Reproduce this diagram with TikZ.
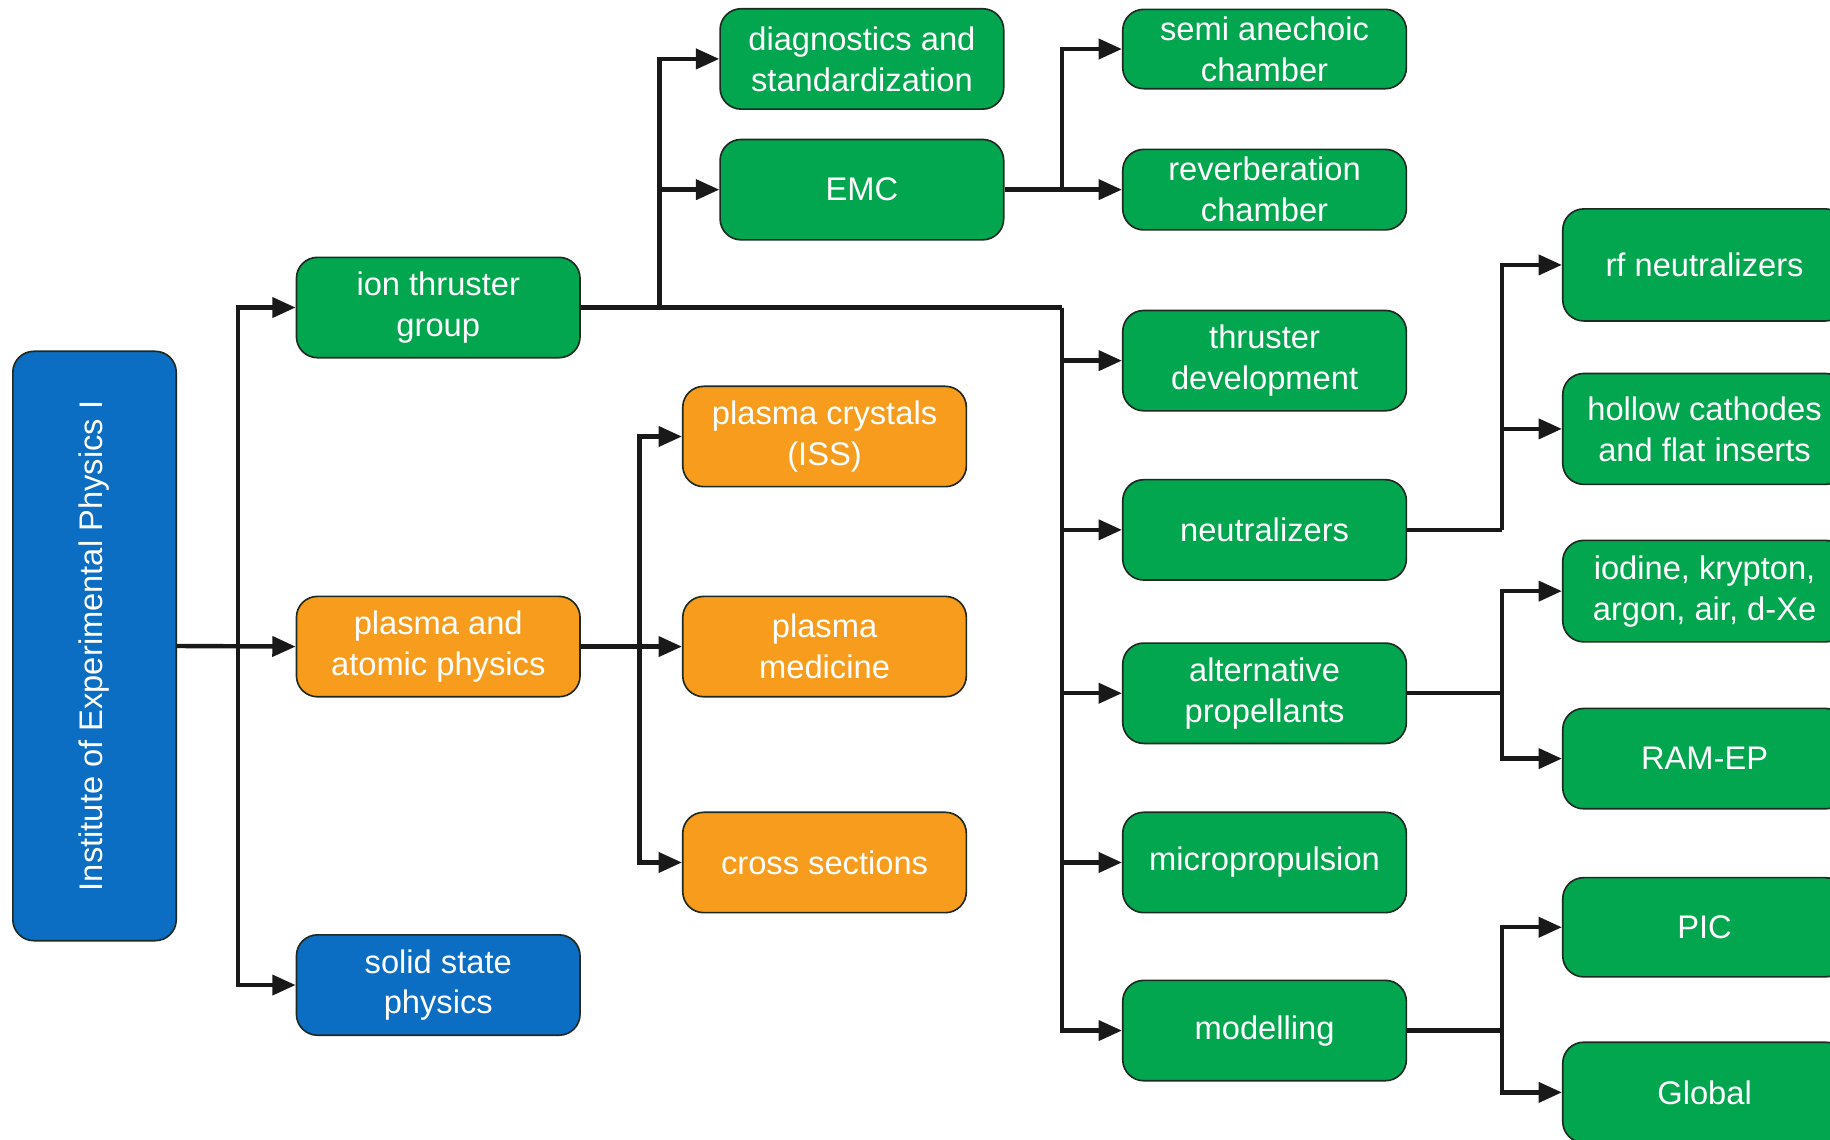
\documentclass[tikz,border=0pt]{standalone}
\usepackage{fontspec}
\setmainfont{Liberation Sans}
\usetikzlibrary{arrows.meta}
\definecolor{bxgreen}{HTML}{02A64F}
\definecolor{bxorange}{HTML}{F89C1D}
\definecolor{bxblue}{HTML}{0B6EC2}
\definecolor{bxedge}{HTML}{1C2A22}
\tikzset{
  box/.style={draw=bxedge, line width=1.4pt, rounded corners=18pt, text=white,
    align=center, inner sep=0pt, minimum width=243pt, minimum height=86pt,
    font=\fontsize{28}{35}\selectfont},
  gbox/.style={box, fill=bxgreen},
  obox/.style={box, fill=bxorange},
  bbox/.style={box, fill=bxblue},
  conn/.style={line width=3.8pt, draw=black!90},
  arr/.style={conn, -{Triangle[length=20pt,width=17pt]}},
}
\begin{document}
\begin{tikzpicture}[x=1pt,y=-1pt]
\useasboundingbox (0,0) rectangle (1568,976);
\clip (0,0) rectangle (1568,976);
\fill[white] (0,0) rectangle (1568,976);

% level 0
\node[bbox, rotate=90, minimum width=505pt, minimum height=140pt] (inst) at (81,553.5) {Institute of Experimental Physics I};

% level 1
\node[gbox] (ion) at (375.5,263.5) {\raisebox{-3pt}{\parbox{240pt}{\centering ion thruster\\group}}};
\node[obox] (pap) at (375.5,554) {\raisebox{-3pt}{\parbox{240pt}{\centering plasma and\\atomic physics}}};
\node[bbox] (ssp) at (375.5,844) {\raisebox{-2pt}{\parbox{240pt}{\centering solid state\\physics}}};

% level 2
\node[gbox] (diag) at (738.5,50.5) {diagnostics and\\standardization};
\node[gbox] (emc) at (738.5,162.5) {EMC};
\node[obox] (pc) at (706.5,374) {\raisebox{-2pt}{\parbox{240pt}{\centering plasma crystals\\(ISS)}}};
\node[obox] (pm) at (706.5,554) {plasma\\medicine};
\node[obox] (cs) at (706.5,739) {cross sections};

% level 3
\node[gbox, minimum height=68pt] (semi) at (1083.5,42) {semi anechoic\\chamber};
\node[gbox, minimum height=69pt] (rev) at (1083.5,162.5) {reverberation\\chamber};
\node[gbox] (thr) at (1083.5,309) {\raisebox{-2pt}{\parbox{240pt}{\centering thruster\\development}}};
\node[gbox] (neu) at (1083.5,454) {neutralizers};
\node[gbox] (alt) at (1083.5,594) {\raisebox{-2pt}{\parbox{240pt}{\centering alternative\\propellants}}};
\node[gbox] (mic) at (1083.5,739) {micropropulsion};
\node[gbox] (mod) at (1083.5,883) {modelling};

% level 4
\node[gbox, minimum height=96pt] (rf) at (1460.5,227) {rf neutralizers};
\node[gbox, minimum height=95pt] (hol) at (1460.5,367.5) {hollow cathodes\\and flat inserts};
\node[gbox, minimum height=87pt] (iod) at (1460.5,506.5) {iodine, krypton,\\argon, air, d-Xe};
\node[gbox] (ram) at (1460.5,650) {RAM-EP};
\node[gbox, minimum height=85pt] (pic) at (1460.5,794.5) {PIC};
\node[gbox] (glo) at (1460.5,936) {Global};

% branch points
\coordinate (tA) at (204,553.5);
\coordinate (b1) at (565,263.5);
\coordinate (b2) at (910,263.5);
\coordinate (be) at (910,162.5);
\coordinate (b3) at (548,554);
\coordinate (b4) at (1287,454);
\coordinate (b5) at (1287,594);
\coordinate (b6) at (1287,883);

% connectors
\draw[arr] (inst.south) -- (pap.west);
\draw[arr] (tA) |- (ion.west);
\draw[arr] (tA) |- (ssp.west);

\draw[conn] (ion.east) -- (b2);
\draw[arr] (b1) |- (diag.west);
\draw[arr] (b1) |- (emc.west);
\draw[arr] (b2) |- (thr.west);
\draw[arr] (b2) |- (neu.west);
\draw[arr] (b2) |- (alt.west);
\draw[arr] (b2) |- (mic.west);
\draw[arr] (b2) |- (mod.west);

\draw[arr] (emc.east) -- (rev.west);
\draw[arr] (be) |- (semi.west);

\draw[arr] (pap.east) -- (pm.west);
\draw[arr] (b3) |- (pc.west);
\draw[arr] (b3) |- (cs.west);

\draw[conn] (neu.east) -- (b4);
\draw[arr] (b4) |- (rf.west);
\draw[arr] (b4) |- (hol.west);

\draw[conn] (alt.east) -- (b5);
\draw[arr] (b5) |- (iod.west);
\draw[arr] (b5) |- (ram.west);

\draw[conn, line width=5pt] (mod.east) -- (b6);
\draw[arr] (b6) |- (pic.west);
\draw[arr] (b6) |- (glo.west);
\end{tikzpicture}
\end{document}
